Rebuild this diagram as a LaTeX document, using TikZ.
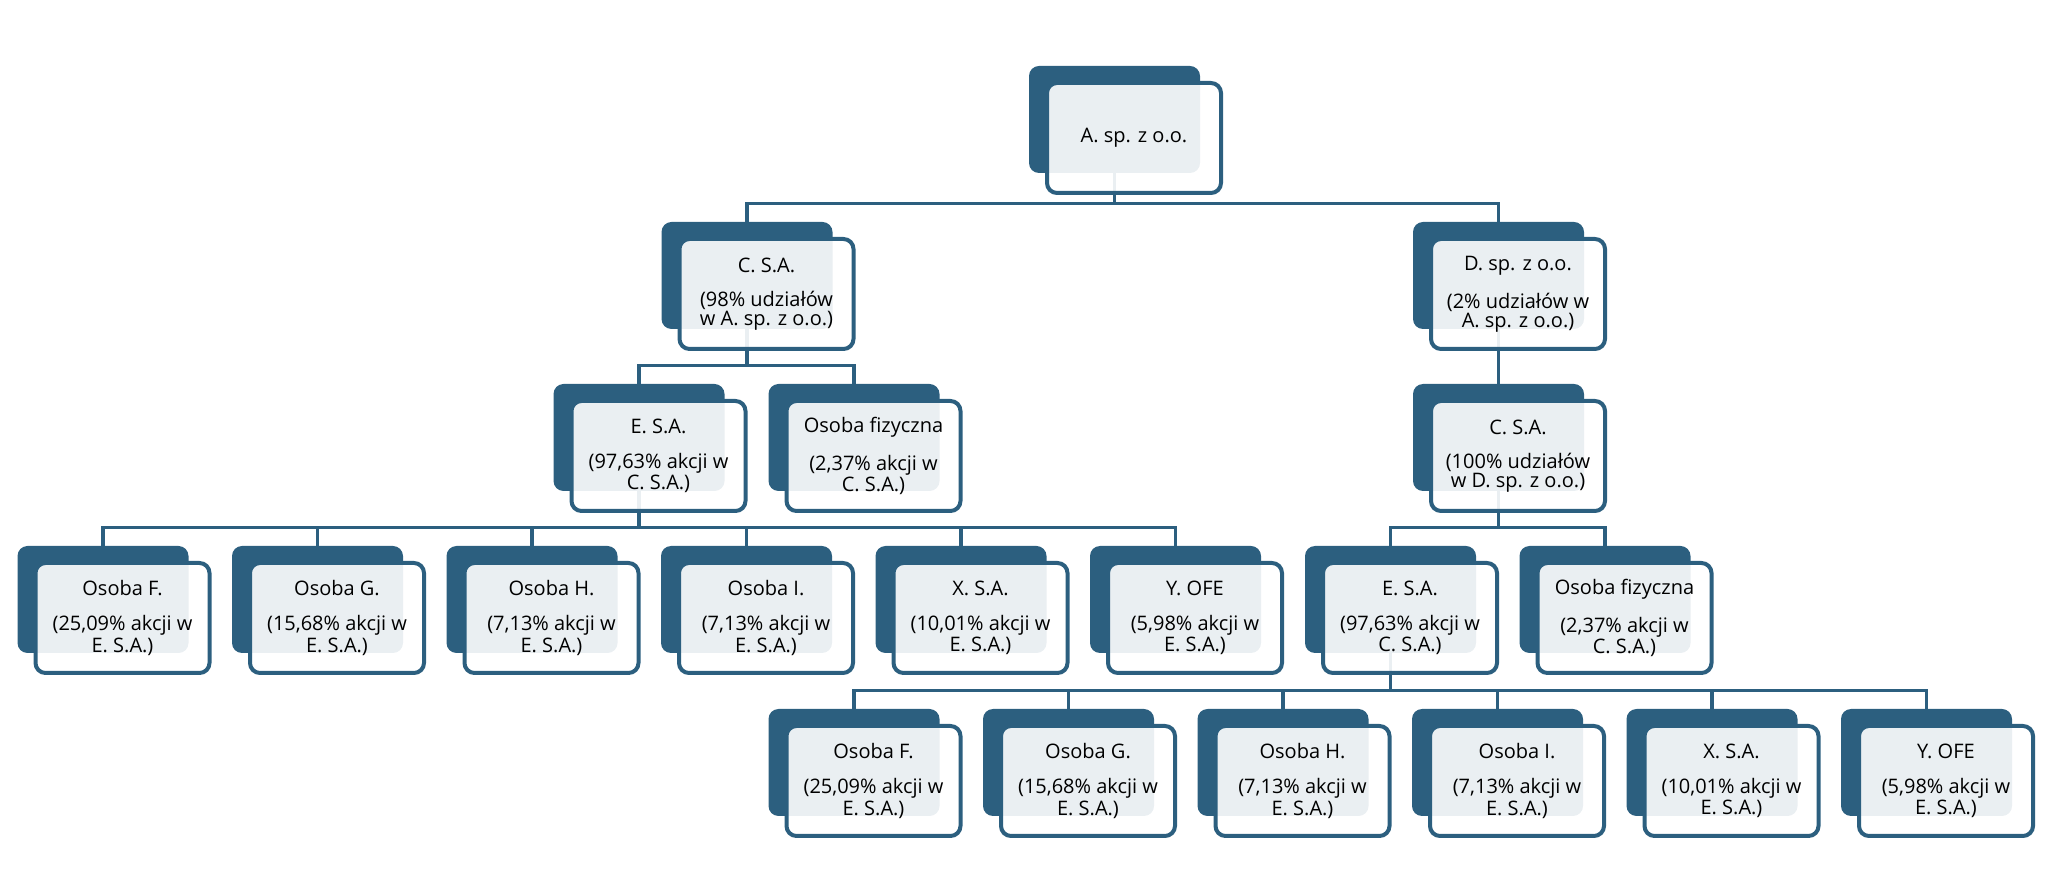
\documentclass[tikz,border=0pt]{standalone}
\usepackage{fontspec}
\setmainfont{Open Sans}
\usetikzlibrary{backgrounds}
\definecolor{qdark}{RGB}{44,95,127}

\tikzset{
  backbox/.style={fill=qdark, rounded corners=5pt, minimum width=85.5pt,
    minimum height=53.5pt, inner sep=0pt},
  frontbox/.style={draw=qdark, line width=2pt, fill=white, fill opacity=0.9,
    text opacity=1, rounded corners=5pt, minimum width=87pt, minimum height=55pt,
    inner sep=0pt, align=center, font=\fontsize{10}{9.4}\selectfont},
  link/.style={draw=qdark, line width=1.8pt},
}
\newcommand{\orgunit}[4]{%
  \node[backbox] (#1) at (#2,#3) {};
  \node[frontbox] (#1-f) at ([xshift=9.75pt,yshift=-9.25pt]#1.center) {#4};
}

\begin{document}
\begin{tikzpicture}[x=0.5pt, y=-0.5pt]
  \useasboundingbox (0,0) rectangle (2047,881);
  \def\yA{119.5}
  \def\yB{275.5}
  \def\yC{437.5}
  \def\yD{599.5}
  \def\yE{762.5}
  \def\dx{214.5}

  %top
  \orgunit{A}{1114.5}{\yA}{A. sp. z o.o.}
  %owners of A
  \orgunit{C}{747}{\yB}{C. S.A.\\[8pt](98\% udziałów\\w A. sp. z o.o.)}
  \orgunit{D}{1498.5}{\yB}{D. sp. z o.o.\\[8pt](2\% udziałów w\\A. sp. z o.o.)}
  %owners of C (left)
  \orgunit{E}{639}{\yC}{E. S.A.\\[8pt](97,63\% akcji w\\C. S.A.)}
  \orgunit{O}{854}{\yC}{Osoba fizyczna\\[8pt](2,37\% akcji w\\C. S.A.)}
  %owner of D
  \orgunit{CC}{1498.5}{\yC}{C. S.A.\\[8pt](100\% udziałów\\w D. sp. z o.o.)}
  %owners of C (right)
  \orgunit{EE}{1390.5}{\yD}{E. S.A.\\[8pt](97,63\% akcji w\\C. S.A.)}
  \orgunit{OO}{1605}{\yD}{Osoba fizyczna\\[8pt](2,37\% akcji w\\C. S.A.)}
  %owners of E, twice
  \foreach \nm/\pc [count=\i from 0] in {Osoba F./{25,09}, Osoba G./{15,68},
      Osoba H./{7,13}, Osoba I./{7,13}, X. S.A./{10,01}, Y. OFE/{5,98}}{
    \orgunit{L\i}{103+\i*\dx}{\yD}{\nm\\[8pt](\pc\% akcji w\\E. S.A.)}
    \orgunit{R\i}{854+\i*\dx}{\yE}{\nm\\[8pt](\pc\% akcji w\\E. S.A.)}
  }

  %links
  \begin{pgfonlayer}{background}
    \foreach \c in {C,D}
      \draw[link] (A.south) |- ([yshift=9pt]\c.north) -- (\c.north);
    \foreach \c in {E,O}
      \draw[link] (C.south) |- ([yshift=9pt]\c.north) -- (\c.north);
    \draw[link] (D.south) -- (CC.north);
    \foreach \c in {EE,OO}
      \draw[link] (CC.south) |- ([yshift=9pt]\c.north) -- (\c.north);
    \foreach \i in {0,...,5}{
      \draw[link] (E.south) |- ([yshift=9pt]L\i.north) -- (L\i.north);
      \draw[link] (EE.south) |- ([yshift=9pt]R\i.north) -- (R\i.north);
    }
  \end{pgfonlayer}
\end{tikzpicture}
\end{document}
